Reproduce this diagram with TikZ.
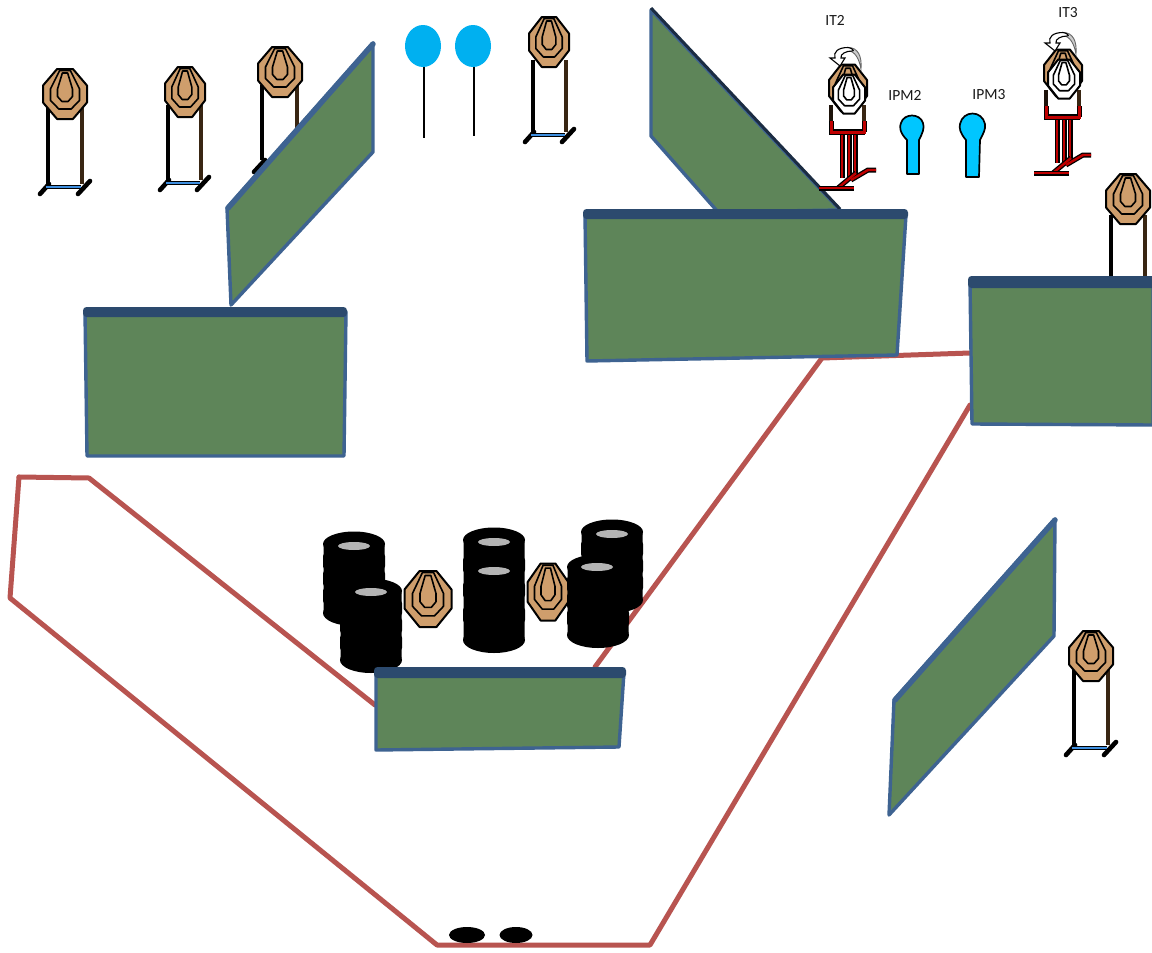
\documentclass[tikz,border=0pt]{standalone}
\usepackage{fontspec}
\setmainfont{Carlito}
\definecolor{wallgreen}{HTML}{5E8559}
\definecolor{wallblue}{HTML}{3E6391}
\definecolor{walldark}{HTML}{2C4A6E}
\definecolor{lane}{HTML}{B85450}
\definecolor{tgttan}{HTML}{CF9E6C}
\definecolor{balloon}{HTML}{00B0F0}
\definecolor{ipm}{HTML}{00C6FF}
\definecolor{barrelgray}{HTML}{B4B4B4}
\definecolor{postred}{HTML}{C00000}
\definecolor{barblue}{HTML}{3F8FE0}
\tikzset{
  wall/.style={fill=wallgreen,draw=wallblue,line width=3.4pt,line join=round},
  wallband/.style={fill=walldark,draw=none,rounded corners=3.5pt},
  laneline/.style={draw=lane,line width=5pt,line join=round,line cap=round},
  octa/.style={fill=tgttan,draw=black,line width=2pt,line join=round},
  ring/.style={draw=black,line width=1.6pt,line join=round},
  post/.style={draw=black,line width=3.6pt},
  foot/.style={draw=black,line width=4.6pt,line cap=round},
  lab/.style={font=\fontsize{15.5}{17}\selectfont,text=black!90,inner sep=0pt},
  ipmshape/.style={fill=ipm,draw=black,line width=1.7pt,line join=round},
  walledge/.style={draw=wallblue,line width=5.5pt,line cap=round},
}
\newcommand{\tgt}[5][tgttan]{%
  \begin{scope}[shift={(#2,#3)},xscale=#4,yscale=#5]
    \draw[octa,fill=#1] (-.18,-.5)--(.18,-.5)--(.5,-.17)--(.5,.17)--(.18,.5)--(-.18,.5)--(-.5,.17)--(-.5,-.17)--cycle;
    \draw[ring] (-.12,-.47)--(.12,-.47)--(.33,-.1)--(.33,.13)--(.14,.3)--(-.14,.3)--(-.33,.13)--(-.33,-.1)--cycle;
    \draw[ring] (-.06,-.42)--(.06,-.42)--(.17,-.1)--(.17,.05)--(.07,.15)--(-.07,.15)--(-.17,.05)--(-.17,-.1)--cycle;
  \end{scope}}
% left post x, right post x, post top, post bottom
\newcommand{\stand}[4]{%
  \draw[post] (#1,#3)--(#1,#4);
  \draw[post,draw=black!70!brown] (#2,#3)--(#2,#4);
  \draw[foot] ({#1-8},{#4+10})--({#1+1},{#4});
  \draw[foot] ({#2-4},{#4+10})--({#2+8},{#4-3});
  \draw[black,line width=4.2pt] ({#1-2},{#4+3})--({#2-1},{#4+3});
  \draw[barblue,line width=1.8pt] ({#1-2},{#4+3})--({#2-1},{#4+3});
}
\newcommand{\barrel}[3]{%
  \fill[black] (#1,{#2+12}) ellipse (31 and 12.5);
  \fill[black] (#1,{#3-13}) ellipse (31 and 13);
  \fill[black,rounded corners=2pt] ({#1-30.5},{#2+12}) rectangle ({#1+30.5},{#3-13});
  \foreach \q in {0.25,0.5,0.75}{
    \fill[black,rounded corners=3pt] ({#1-31},{#2+12+\q*(#3-#2-25)-8}) rectangle ({#1+31},{#2+12+\q*(#3-#2-25)+8});
  }}
\newcommand{\barrelmark}[2]{\fill[barrelgray] (#1,#2) ellipse (16 and 4);}
% no-shoot target with turning arrow, red stand; offset from IT2
\newcommand{\turner}[2]{%
  \begin{scope}[shift={(#1,#2)}]
    \draw[black!85!brown,line width=3.6pt] (831,105)--(831,126);
    \draw[black!70!brown,line width=3.6pt] (864,105)--(864,126);
    \draw[black,line width=6pt] (829,132)--(865,132);
    \draw[black,line width=5pt] (831,121)--(831,132);
    \draw[black,line width=5pt] (864,121)--(864,132);
    \draw[postred,line width=3pt] (831,121)--(831,132)--(864,132)--(864,121);
    \foreach \x in {842,849,855}{
      \draw[black,line width=5pt] (\x,135)--(\x,178);
      \draw[postred,line width=2.6pt] (\x,135)--(\x,178);
    }
    \draw[black,line width=5pt] (851,180)--(868,170)--(876,170);
    \draw[black,line width=5pt] (838,188)--(856,173);
    \draw[postred,line width=2.4pt] (838,188)--(856,173);
    \draw[postred,line width=2.4pt] (851,180)--(868,170)--(876,170);
    \draw[black,line width=5pt] (819,188)--(854,188);
    \draw[postred,line width=2.6pt] (819,188)--(854,188);
    \tgt{848}{88}{38}{47}
    \tgt[white]{849}{94}{32}{39}
    \draw[fill=black!20,draw=black!60,line width=.9pt] (848,47.5) .. controls (858,47.5) and (862,56) .. (861,69) .. controls (859,58) and (855,52) .. (848,50) -- cycle;
    \draw[fill=white,draw=black,line width=1.1pt] (848,47.5) .. controls (838,47.5) and (833,52) .. (835,58) -- (830,58) -- (840,66) -- (845,58) -- (841,58) .. controls (840,54) and (846,51) .. (852,51) .. controls (855,51) and (852,48) .. (848,47.5) -- cycle;
  \end{scope}}
\begin{document}
\begin{tikzpicture}[x=1pt,y=-1pt]
\useasboundingbox (0,0) rectangle (1152,953);
\fill[white] (0,0) rectangle (1152,953);

% shooting lane
\draw[laneline] (19,477)--(89,478)--(375,705);
\draw[laneline] (19,477)--(10,598)--(437,945)--(650,945)--(970,405);
\draw[laneline] (595,667)--(822,358)--(970,353);

% upper-left targets
\stand{48}{82}{105}{184}
\tgt{65}{94}{44}{50}
\stand{168}{201}{105}{180}
\tgt{185}{92}{40}{50}
\draw[post] (262,85)--(262,160);
\draw[post,draw=black!70!brown] (297,85)--(297,130);
\draw[foot] (254,172)--(265,160);
\tgt{280}{72}{44}{50}

% upper middle
\draw[black,line width=2.8pt] (424,60)--(424,138);
\draw[black,line width=2.8pt] (474,60)--(474,136);
\fill[balloon] (423,46) ellipse (18 and 21);
\fill[balloon] (473,46) ellipse (18 and 21);
\stand{533}{566}{60}{132}
\tgt{549}{42}{40}{50}

% angled walls, behind
\draw[wall] (227,208)--(373,43)--(373,152)--(231,305)--cycle;
\draw[walledge] (228,208)--(373,44);
\draw[wall] (651,10)--(840,210)--(718,212)--(651,136)--cycle;
\draw[walldark!60!black,line width=3pt] (651,8)--(840,209);

% front walls
\draw[wall] (85,312)--(346,312)--(344,456)--(87,456)--cycle;
\fill[wallband] (83,307) rectangle (347,317);
\draw[wall] (585,215)--(906,215)--(897,355)--(587,361)--cycle;
\fill[wallband] (583,209) rectangle (908,219);

% right
\draw[post] (1111,215)--(1111,278);
\draw[post,draw=black!70!brown] (1145,215)--(1145,278);
\tgt{1128}{199}{44}{50}
\draw[wall] (970,283)--(1153,283)--(1153,425)--(972,424)--cycle;
\fill[wallband] (968,276) rectangle (1156,288);

% IT2, IT3
\turner{0}{0}
\turner{215}{-15}
\draw[ipmshape] (907,140) .. controls (900,133) and (899,127) .. (901,123) .. controls (904,113) and (920,113) .. (923,123) .. controls (925,128) and (922,134) .. (919,140) -- (919,174) -- (907,174) -- cycle;
\draw[ipmshape] (966,140) .. controls (960,133) and (959,128) .. (960,124) .. controls (963,110) and (982,110) .. (985,124) .. controls (986,129) and (983,134) .. (980,140) -- (979,177) -- (966,177) -- cycle;
\node[lab] (it2) at (835,20) {IT2};
\node[lab] (ipm2) at (905,95) {IPM2};
\node[lab] (ipm3) at (989,95) {IPM3};
\node[lab] (it3) at (1068,13) {IT3};

% barrels
\barrel{354}{532}{626}
\barrelmark{354}{546}
\barrel{371}{579}{673}
\barrelmark{371}{592}
\barrel{494}{528}{653}
\barrelmark{494}{542}
\barrelmark{494}{571}
\barrel{612}{520}{613}
\barrelmark{612}{534}
\tgt{428}{599}{47}{56}
\tgt{548}{592}{41}{57}
\barrel{598}{555}{648}
\barrelmark{597}{567}

% centre wall
\draw[wall] (376,672)--(624,672)--(619,747)--(376,750)--cycle;
\fill[wallband] (374,667) rectangle (626,678);

% lower right
\draw[wall] (894,700)--(1055,519)--(1054,636)--(889,815)--cycle;
\draw[walledge] (895,700)--(1055,520);
\stand{1074}{1108}{670}{745}
\tgt{1091}{656}{44}{50}

% start marks
\fill[black] (467,935) ellipse (18 and 8);
\fill[black] (516,935) ellipse (16.5 and 8);
\end{tikzpicture}
\end{document}
